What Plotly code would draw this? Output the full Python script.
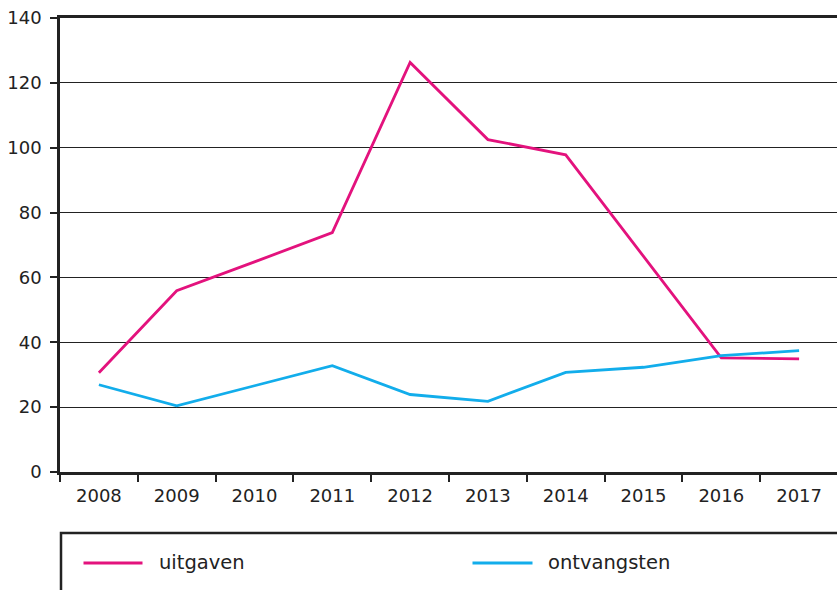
import plotly.graph_objects as go

years = ["2008", "2009", "2010", "2011", "2012", "2013", "2014", "2015", "2016", "2017"]
uitgaven = [30.6, 55.9, 64.8, 73.8, 126.3, 102.5, 97.8, 66.5, 35.2, 34.9]
ontvangsten = [26.9, 20.4, 26.6, 32.8, 23.9, 21.8, 30.7, 32.3, 35.9, 37.4]
series_names = ["uitgaven", "ontvangsten"]
y_ticks = [0, 20, 40, 60, 80, 100, 120, 140]

MAGENTA = "#E3127D"
CYAN = "#12ADEB"
DARK = "#222222"
FONT = "DejaVu Sans"

fig = go.Figure()
fig.add_trace(go.Scatter(x=years, y=uitgaven, mode="lines", name=series_names[0],
                         line=dict(color=MAGENTA, width=2.8), showlegend=False))
fig.add_trace(go.Scatter(x=years, y=ontvangsten, mode="lines", name=series_names[1],
                         line=dict(color=CYAN, width=2.8), showlegend=False))

W, H = 837, 590
L, R, T, B = 60, 0, 18, 118
pw = W - L - R
ph = H - T - B

def px_x(x):
    return (x - L) / pw

def px_y(y):
    return (H - B - y) / ph

# legend box
fig.add_shape(type="rect", xref="paper", yref="paper",
              x0=px_x(61), x1=1.05, y0=px_y(533), y1=-0.4,
              line=dict(color=DARK, width=2.5), fillcolor="rgba(0,0,0,0)")
legend_items = [
    (series_names[0], MAGENTA, 83.5, 142.5, 156.5),
    (series_names[1], CYAN, 472.5, 532.5, 545.5),
]
for name, col, lx0, lx1, tx in legend_items:
    fig.add_shape(type="line", xref="paper", yref="paper",
                  x0=px_x(lx0), x1=px_x(lx1), y0=px_y(563), y1=px_y(563),
                  line=dict(color=col, width=3))
    fig.add_annotation(text=name, xref="paper", yref="paper", x=px_x(tx), y=px_y(562),
                       xanchor="left", yanchor="middle", showarrow=False,
                       font=dict(family=FONT, size=19.5, color=DARK))

fig.update_layout(
    width=W, height=H,
    margin=dict(l=L, r=R, t=T, b=B, pad=0),
    paper_bgcolor="white", plot_bgcolor="white",
    font=dict(family=FONT, color=DARK, size=18),
    showlegend=False,
)
fig.update_xaxes(
    type="category", range=[-0.5, 9.487],
    tickson="boundaries", ticks="outside", ticklen=7, tickwidth=1.5, tickcolor=DARK,
    showline=True, linecolor=DARK, linewidth=2.5, mirror=True,
    showgrid=False, zeroline=False,
    tickfont=dict(family=FONT, size=18, color=DARK),
    ticklabelstandoff=6,
)
fig.update_yaxes(
    range=[0, 140], tickvals=y_ticks, ticks="outside", ticklen=7, tickwidth=1.5, tickcolor=DARK,
    showline=True, linecolor=DARK, linewidth=2.5,
    showgrid=True, gridcolor=DARK, gridwidth=1.2, zeroline=False,
    tickfont=dict(family=FONT, size=18, color=DARK),
    ticklabelstandoff=5,
)

fig.write_html("out.html", config={"displayModeBar": False},
               post_script="document.body.style.margin='0';document.body.style.overflow='hidden';")
